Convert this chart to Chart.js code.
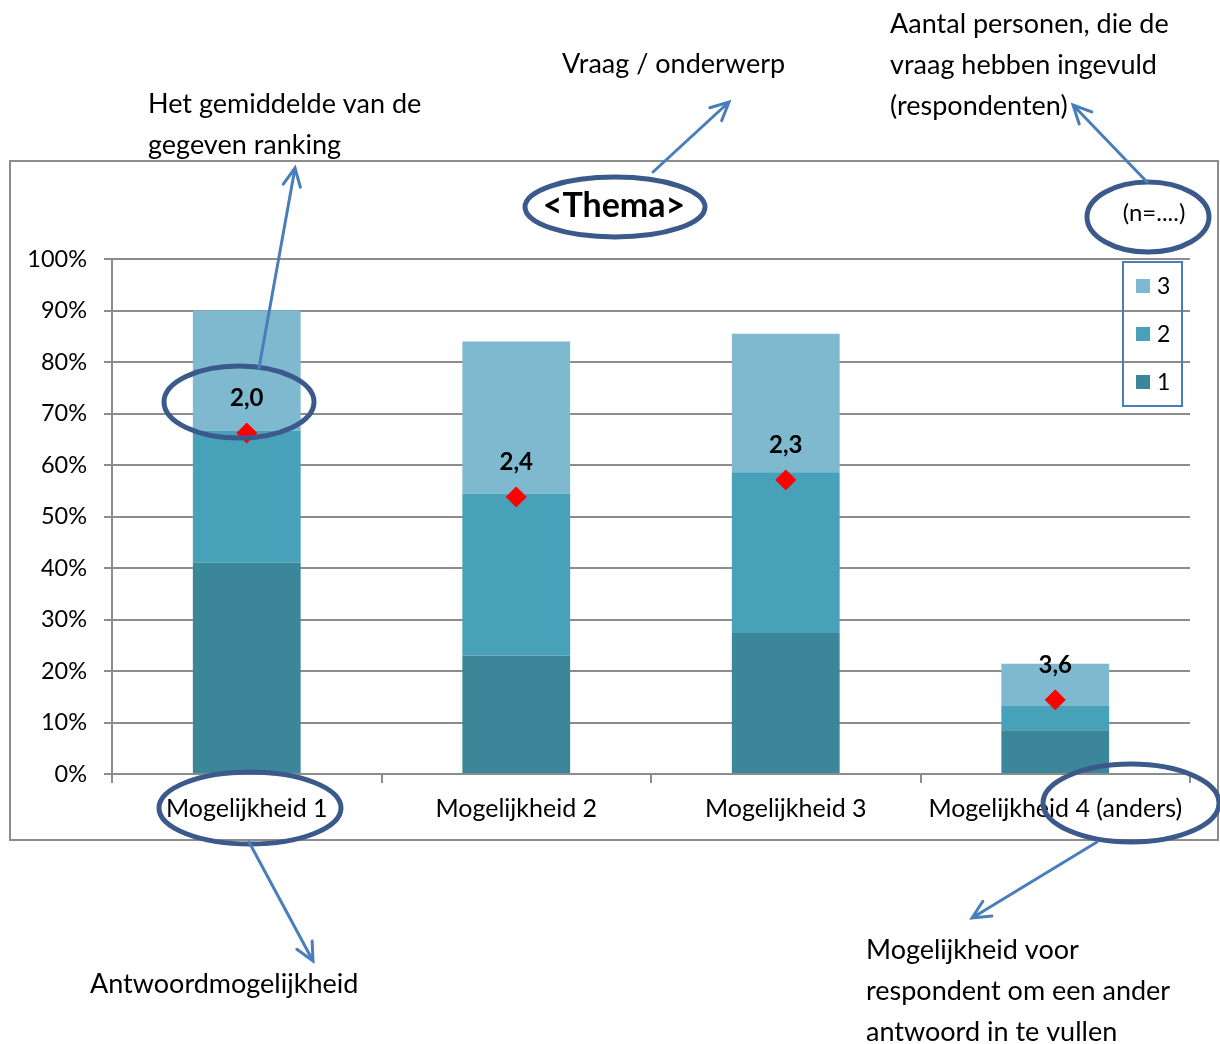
<!DOCTYPE html>
<html>
<head>
<meta charset="utf-8">
<script src="https://cdn.jsdelivr.net/npm/chart.js@4.4.0/dist/chart.umd.min.js"></script>
<style>
  html, body { margin: 0; padding: 0; background: #ffffff; }
  #wrap { width: 1220px; height: 1044px; position: relative; }
</style>
</head>
<body>
<div id="wrap"><canvas id="rankChart"></canvas></div>
<script>
// Data
const categories = ['Mogelijkheid 1', 'Mogelijkheid 2', 'Mogelijkheid 3', 'Mogelijkheid 4 (anders)'];
const rank1 = [41.0, 23.0, 27.4, 8.5];
const rank2 = [25.7, 31.4, 31.2, 4.7];
const rank3 = [23.3, 29.6, 26.9, 8.2];
const avgPos = [66.2, 53.8, 57.1, 14.4];
const avgLabels = ['2,0', '2,4', '2,3', '3,6'];
const seriesNames = ['1', '2', '3'];
const yTicks = [0, 10, 20, 30, 40, 50, 60, 70, 80, 90, 100];

const FONT = 'Lato, "Liberation Sans", sans-serif';
const GRID = '#8c8c8c';
const NAVY = '#3b5a8b';
const ARROW = '#4a7ebb';

// Frame, title, legend and callouts
const decorations = {
    id: 'decorations',
    beforeDraw(chart) {
        const c = chart.ctx;
        c.save();
        c.fillStyle = '#ffffff';
        c.fillRect(0, 0, chart.width, chart.height);
        c.strokeStyle = '#8c8c8c';
        c.lineWidth = 2;
        c.strokeRect(10, 161, 1208, 679);
        c.restore();
    },
    afterDraw(chart) {
        const c = chart.ctx;
        c.save();

        // legend (reverse order, top = 3)
        c.strokeStyle = ARROW;
        c.lineWidth = 2;
        c.strokeRect(1123, 262, 59, 144);
        const ds = chart.data.datasets.filter(d => d.type !== 'line');
        ds.slice().reverse().forEach((d, i) => {
            const y = 286 + i * 48;
            c.fillStyle = d.backgroundColor;
            c.fillRect(1136, y - 7, 14, 14);
            c.fillStyle = '#000';
            c.font = '23px ' + FONT;
            c.textAlign = 'left';
            c.textBaseline = 'middle';
            c.fillText(d.label, 1157, y + 1);
        });

        // title and n=
        c.fillStyle = '#000';
        c.textAlign = 'center';
        c.textBaseline = 'middle';
        c.font = 'bold 34px ' + FONT;
        c.fillText('<Thema>', 614, 206);
        c.font = '24px ' + FONT;
        c.fillText('(n=....)', 1154, 213);

        // ellipses
        const ell = (x, y, rx, ry) => {
            c.beginPath();
            c.ellipse(x, y, rx, ry, 0, 0, Math.PI * 2);
            c.strokeStyle = NAVY;
            c.lineWidth = 5;
            c.stroke();
        };
        ell(615, 207, 90, 30);
        ell(1148, 217, 61, 35);
        ell(239, 402, 75, 36);
        ell(250, 808, 91, 36);
        ell(1131, 803, 88, 39);

        // arrows
        const arrow = (x1, y1, x2, y2) => {
            const a = Math.atan2(y2 - y1, x2 - x1);
            c.strokeStyle = ARROW;
            c.lineWidth = 3;
            c.lineCap = 'round';
            c.beginPath();
            c.moveTo(x1, y1);
            c.lineTo(x2, y2);
            c.moveTo(x2 - 20 * Math.cos(a - 0.45), y2 - 20 * Math.sin(a - 0.45));
            c.lineTo(x2, y2);
            c.lineTo(x2 - 20 * Math.cos(a + 0.45), y2 - 20 * Math.sin(a + 0.45));
            c.stroke();
        };
        arrow(259, 368, 295, 168);
        arrow(653, 172, 729, 102);
        arrow(1147, 182, 1073, 105);
        arrow(249, 842, 313, 961);
        arrow(1097, 842, 972, 918);

        // callout texts
        c.fillStyle = '#000';
        c.textAlign = 'left';
        c.textBaseline = 'middle';
        c.font = '27px ' + FONT;
        const lines = (x, y, arr) => arr.forEach((t, i) => c.fillText(t, x, y + i * 41));
        lines(148, 104, ['Het gemiddelde van de', 'gegeven ranking']);
        lines(562, 64, ['Vraag / onderwerp']);
        lines(890, 24, ['Aantal personen, die de', 'vraag hebben ingevuld', '(respondenten)']);
        lines(90, 984, ['Antwoordmogelijkheid']);
        lines(866, 950, ['Mogelijkheid voor', 'respondent om een ander', 'antwoord in te vullen']);
        c.restore();
    }
};

// average labels above the red diamonds
const avgText = {
    id: 'avgText',
    afterDatasetsDraw(chart) {
        const idx = chart.data.datasets.findIndex(d => d.type === 'line');
        const meta = chart.getDatasetMeta(idx);
        const c = chart.ctx;
        c.save();
        c.fillStyle = '#000';
        c.font = 'bold 24px ' + FONT;
        c.textAlign = 'center';
        c.textBaseline = 'middle';
        meta.data.forEach((pt, i) => {
            c.fillText(avgLabels[i], pt.x, pt.y - 35);
        });
        c.restore();
    }
};

new Chart(document.getElementById('rankChart'), {
    type: 'bar',
    data: {
        labels: categories,
        datasets: [
            { type: 'line', label: 'gemiddelde', data: avgPos, stack: 'avg', showLine: false,
              pointStyle: 'rectRot', pointRadius: 10, pointHoverRadius: 10,
              pointBackgroundColor: '#ff0000', pointBorderColor: '#ff0000', borderColor: '#ff0000' },
            { label: seriesNames[0], data: rank1, backgroundColor: '#3b8699', stack: 'r' },
            { label: seriesNames[1], data: rank2, backgroundColor: '#47a1b9', stack: 'r' },
            { label: seriesNames[2], data: rank3, backgroundColor: '#7eb9cf', stack: 'r' }
        ]
    },
    options: {
        responsive: true,
        maintainAspectRatio: false,
        animation: false,
        devicePixelRatio: 1,
        categoryPercentage: 1,
        barPercentage: 0.4,
        layout: { padding: { left: 0, top: 259, right: 30, bottom: 210 } },
        plugins: {
            legend: { display: false },
            tooltip: { enabled: false }
        },
        scales: {
            x: {
                stacked: true,
                afterFit: s => { s.height = 60; },
                grid: { drawOnChartArea: false, drawTicks: true, tickLength: 9, color: GRID, lineWidth: 2, offset: true },
                border: { color: GRID, width: 2 },
                ticks: { color: '#000', font: { family: FONT, size: 25 }, padding: 11, maxRotation: 0, autoSkip: false }
            },
            y: {
                stacked: true,
                min: 0,
                max: 100,
                afterFit: s => { s.width = 112; },
                afterBuildTicks: s => { s.ticks = yTicks.map(v => ({ value: v })); },
                grid: { color: GRID, lineWidth: 2, tickLength: 8 },
                border: { color: GRID, width: 2 },
                ticks: { color: '#000', font: { family: FONT, size: 23.5 }, padding: 17,
                         callback: v => v + '%' }
            }
        }
    },
    plugins: [decorations, avgText]
});
</script>
</body>
</html>
